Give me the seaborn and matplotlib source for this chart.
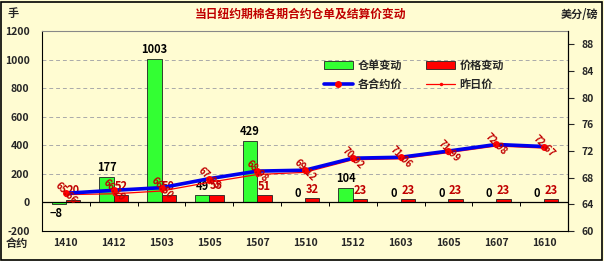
import numpy as np
import pandas as pd
import matplotlib
matplotlib.use("Agg")
import matplotlib.pyplot as plt
import seaborn as sns
from matplotlib.patches import Patch
from matplotlib.lines import Line2D

contracts = ["1410", "1412", "1503", "1505", "1507", "1510", "1512", "1603", "1605", "1607", "1610"]
warrant_change = [-8, 177, 1003, 49, 429, 0, 104, 0, 0, 0, 0]
price_change = [20, 52, 50, 55, 51, 32, 23, 23, 23, 23, 23]
settle_price = [65.66, 66.10, 66.50, 67.85, 68.98, 69.12, 70.92, 71.06, 71.99, 72.98, 72.67]
prev_price = [65.46, 65.58, 66.00, 67.30, 68.47, 68.80, 70.69, 70.83, 71.76, 72.75, 72.44]

title = "当日纽约期棉各期合约仓单及结算价变动"
bg = "#FFFCD2"
green = "#33FF33"
red = "#FF0000"
dark_red = "#C00000"

sns.set_theme(style="white")
plt.rcParams["font.family"] = ["Noto Sans CJK SC", "DejaVu Sans"]
plt.rcParams["font.weight"] = "bold"
plt.rcParams["axes.unicode_minus"] = False

fig = plt.figure(figsize=(6.04, 2.61), dpi=100, facecolor=bg)
ax = fig.add_axes([42/604, 1-231/261, (568-42)/604, (231-31)/261])
ax.set_facecolor(bg)

df = pd.DataFrame({
    "合约": contracts * 2,
    "值": warrant_change + price_change,
    "系列": ["仓单变动"] * len(contracts) + ["价格变动"] * len(contracts),
})
sns.barplot(data=df, x="合约", y="值", hue="系列", palette=[green, red],
            width=0.6, edgecolor="#222222", linewidth=0.6, ax=ax, legend=False,
            saturation=1)
ax.set_xlim(-0.5, len(contracts) - 0.5)
ax.set_ylim(-200, 1200)
ax.set_yticks(range(-200, 1201, 200))
ax.set_xlabel("")
ax.set_ylabel("")
for y in range(200, 1201, 200):
    ax.axhline(y, color="#AAAAAA", lw=0.7, ls=(0, (4, 3)), zorder=0)
ax.axhline(0, color="black", lw=0.9, zorder=1)
ax.vlines(np.arange(len(contracts) - 1) + 0.5, -25, 0, color="black", lw=0.7)
ax.tick_params(axis="x", length=0, pad=5, labelsize=7.5)
ax.tick_params(axis="y", length=0, labelsize=7.5, pad=9)
for lab in ax.get_xticklabels() + ax.get_yticklabels():
    lab.set_fontweight("bold")
ax.spines["top"].set_color("#888888")
for s in ["left", "bottom", "right"]:
    ax.spines[s].set_color("black")
for s in ax.spines.values():
    s.set_linewidth(0.8)

# bar value labels
green_bars = ax.containers[0]
red_bars = ax.containers[1]
for b, v in zip(green_bars, warrant_change):
    cx = b.get_x() + b.get_width() / 2
    if v < 0:
        ax.text(cx - 0.05, v - 25, str(v).replace("-", "−"), ha="center", va="top",
                fontsize=8, fontweight="bold", color="black")
    else:
        ax.text(cx, v + 20, str(v), ha="center", va="bottom",
                fontsize=8, fontweight="bold", color="black")
for b, v in zip(red_bars, price_change):
    cx = b.get_x() + b.get_width() / 2
    ax.text(cx, v + 15, str(v), ha="center", va="bottom",
            fontsize=8, fontweight="bold", color=dark_red)

ax2 = ax.twinx()
xs = np.arange(len(contracts))
sns.lineplot(x=xs, y=prev_price, ax=ax2, color=red, lw=0.9, marker="o",
             markersize=2.5, markeredgewidth=0)
sns.lineplot(x=xs, y=settle_price, ax=ax2, color="#0000EE", lw=2.6, marker="o",
             markersize=5, markerfacecolor=red, markeredgewidth=0)
ax2.set_ylim(60, 90)
ax2.set_yticks(range(60, 89, 4))
ax2.set_xlim(-0.5, len(contracts) - 0.5)
ax2.tick_params(axis="y", length=4, width=0.8, direction="out", labelsize=7.5, pad=6)
for lab in ax2.get_yticklabels():
    lab.set_fontweight("bold")
for s in ax2.spines.values():
    s.set_visible(False)
ax2.spines["right"].set_visible(True)
ax2.spines["right"].set_color("black")
ax2.spines["right"].set_linewidth(0.8)
for x, v in zip(xs, settle_price):
    ax2.text(x, v, f"{v:.2f}", ha="center", va="center", rotation=-45,
             fontsize=7, color=dark_red, rotation_mode="anchor")

handles = [
    Patch(facecolor=green, edgecolor="#222222", linewidth=0.6),
    Patch(facecolor=red, edgecolor="#222222", linewidth=0.6),
    Line2D([0], [0], color="#0000EE", lw=2.6, marker="o", markersize=5,
           markerfacecolor=red, markeredgewidth=0),
    Line2D([0], [0], color=red, lw=0.9, marker="o", markersize=2.5, markeredgewidth=0),
]
labels = ["仓单变动", "价格变动", "各合约价", "昨日价"]
order = [0, 2, 1, 3]
fig.legend([handles[i] for i in order], [labels[i] for i in order], ncol=2,
           loc="upper left", bbox_to_anchor=(314/604, 1-49/261), frameon=False,
           prop={"size": 8, "weight": "bold"}, handlelength=2.6, handleheight=0.8,
           columnspacing=2.2, labelspacing=0.55, handletextpad=0.4)

fig.text(300/604, 1-14/261, title, ha="center", va="center", fontsize=8.5,
         fontweight="bold", color=dark_red)
fig.text(8/604, 1-14/261, "手", ha="left", va="center", fontsize=8, fontweight="bold")
fig.text(598/604, 1-14/261, "美分/磅", ha="right", va="center", fontsize=8, fontweight="bold")
fig.text(6/604, 1-243/261, "合约", ha="left", va="center", fontsize=8, fontweight="bold")

border = plt.Rectangle((0.002, 0.004), 0.995, 0.99, transform=fig.transFigure,
                       fill=False, edgecolor="black", lw=1.2)
fig.patches.append(border)

fig.savefig("out.png", dpi=100, facecolor=bg)
